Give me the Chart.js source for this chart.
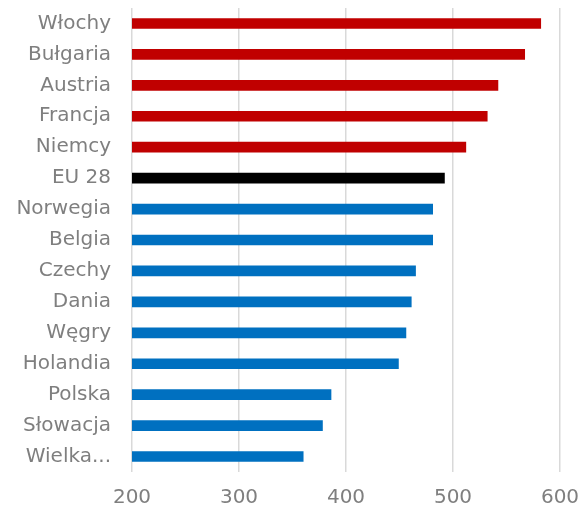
<!DOCTYPE html>
<html>
<head>
<meta charset="utf-8">
<script src="https://cdn.jsdelivr.net/npm/chart.js@4"></script>
<style>
  html, body { margin: 0; padding: 0; background: #fff; }
  #wrap { width: 582px; height: 508px; }
</style>
</head>
<body>
<div id="wrap"><canvas id="chart"></canvas></div>
<script>
// Countries, top to bottom
const countries = ['Włochy', 'Bułgaria', 'Austria', 'Francja', 'Niemcy', 'EU 28', 'Norwegia', 'Belgia',
    'Czechy', 'Dania', 'Węgry', 'Holandia', 'Polska', 'Słowacja', 'Wielka Brytania'];
const values = [582, 567, 542, 532, 512, 492, 481, 481, 465, 461, 456, 449, 386, 378, 360];
// above = above EU average, eu = the average itself, below = the rest
const groups = ['above', 'above', 'above', 'above', 'above', 'eu', 'below', 'below',
    'below', 'below', 'below', 'below', 'below', 'below', 'below'];
const xTicks = [200, 300, 400, 500, 600];

const groupColors = { above: '#c00000', eu: '#000000', below: '#0070c0' };
const barColors = groups.map(g => groupColors[g]);

const labelFont = { family: 'DejaVu Sans', size: 20 };
const labelColor = '#7f7f7f';

const ctx = document.getElementById('chart').getContext('2d');
new Chart(ctx, {
    type: 'bar',
    data: {
        labels: countries,
        datasets: [{
            data: values,
            backgroundColor: barColors,
            barThickness: 10,
            borderWidth: 0,
        }],
    },
    options: {
        indexAxis: 'y',
        responsive: true,
        maintainAspectRatio: false,
        animation: false,
        layout: {
            padding: { top: 8, right: 22, left: 0, bottom: 0 },
        },
        plugins: {
            legend: { display: false },
            tooltip: { enabled: false },
        },
        scales: {
            x: {
                min: 200,
                max: 600,
                afterBuildTicks: scale => {
                    scale.ticks = xTicks.map(v => ({ value: v }));
                },
                grid: {
                    color: '#d9d9d9',
                    lineWidth: 1.5,
                    drawTicks: false,
                },
                border: { display: false },
                ticks: {
                    font: labelFont,
                    color: labelColor,
                    padding: 14,
                    maxRotation: 0,
                },
                afterFit: scale => {
                    scale.height = 36;
                    scale.paddingLeft = 0;
                    scale.paddingRight = 0;
                },
            },
            y: {
                grid: { display: false, drawTicks: false },
                border: { display: false },
                ticks: {
                    font: labelFont,
                    color: labelColor,
                    padding: 21,
                    autoSkip: false,
                    callback: function (value) {
                        const label = this.getLabelForValue(value);
                        // long names are cut short to fit the axis
                        return label.length > 10 ? label.split(' ')[0] + '...' : label;
                    },
                },
                afterFit: scale => {
                    scale.width = 132;
                    scale.paddingTop = 0;
                    scale.paddingBottom = 0;
                },
            },
        },
    },
});
</script>
</body>
</html>
